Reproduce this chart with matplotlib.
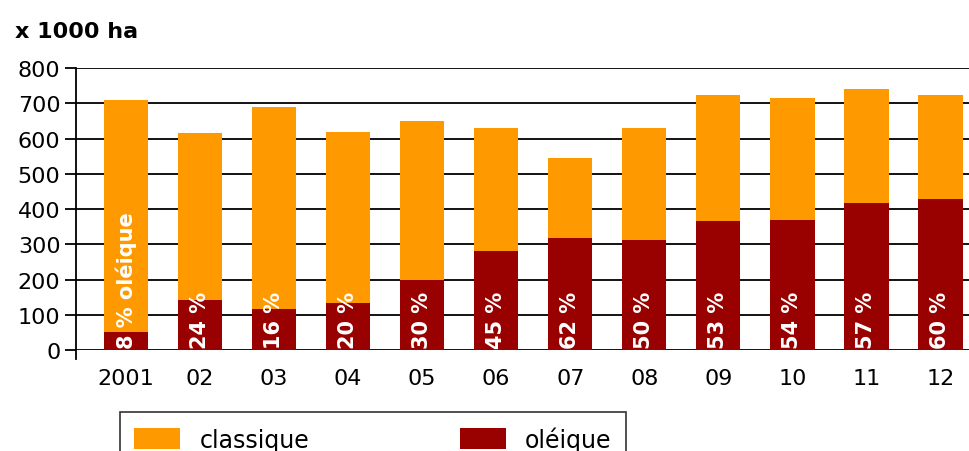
import matplotlib.pyplot as plt
from matplotlib.patches import Patch

# données (x 1000 ha)
annees = ['2001', '02', '03', '04', '05', '06', '07', '08', '09', '10', '11', '12']
total = [711, 617, 690, 618, 651, 630, 546, 630, 723, 716, 741, 723]
oleique = [50, 142, 115, 132, 199, 280, 318, 312, 365, 370, 417, 429]
etiquettes = ['8 % oléique', '24 %', '16 %', '20 %', '30 %', '45 %', '62 %', '50 %',
              '53 %', '54 %', '57 %', '60 %']

classique = [t - o for t, o in zip(total, oleique)]

orange = '#ff9900'
rouge = '#990000'

fig = plt.figure(figsize=(9.7, 4.52), dpi=100)
ax = fig.add_axes([0.078, 0.2235, 0.922, 0.6235])

x = list(range(len(annees)))
ax.bar(x, oleique, width=0.6, color=rouge, zorder=3)
ax.bar(x, classique, width=0.6, bottom=oleique, color=orange, zorder=3)

for xi, txt in zip(x, etiquettes):
    ax.text(xi, 6, txt, rotation=90, ha='center', va='bottom', color='white',
            fontsize=15, fontweight='bold', zorder=4)

ax.set_xlim(-0.68, 11.4)
ax.set_ylim(0, 800)
ax.set_yticks(range(0, 801, 100))
ax.set_xticks(x)
ax.set_xticklabels(annees)
ax.tick_params(axis='y', length=8, width=1.3, labelsize=16, pad=3)
ax.tick_params(axis='x', length=0, labelsize=16, pad=13)
ax.yaxis.grid(True, color='black', linewidth=1.3, zorder=0)
ax.set_axisbelow(True)

for s in ['top', 'right', 'bottom']:
    ax.spines[s].set_visible(False)
ax.spines['left'].set_linewidth(1.3)
ax.spines['left'].set_bounds(-25, 800)

fig.text(0.015, 0.93, 'x 1000 ha', fontsize=16, fontweight='bold', va='center')

handles = [Patch(facecolor=orange, label='classique'), Patch(facecolor=rouge, label='oléique')]
leg = fig.legend(handles=handles, ncol=2, loc='upper left', bbox_to_anchor=(0.124, 0.0863),
                 borderaxespad=0, frameon=True, fancybox=False, edgecolor='black',
                 fontsize=17, handlelength=1.95, handleheight=0.95, handletextpad=0.8,
                 columnspacing=6.4, borderpad=0.6)
leg.get_frame().set_linewidth(1.2)

plt.savefig('out.png')
